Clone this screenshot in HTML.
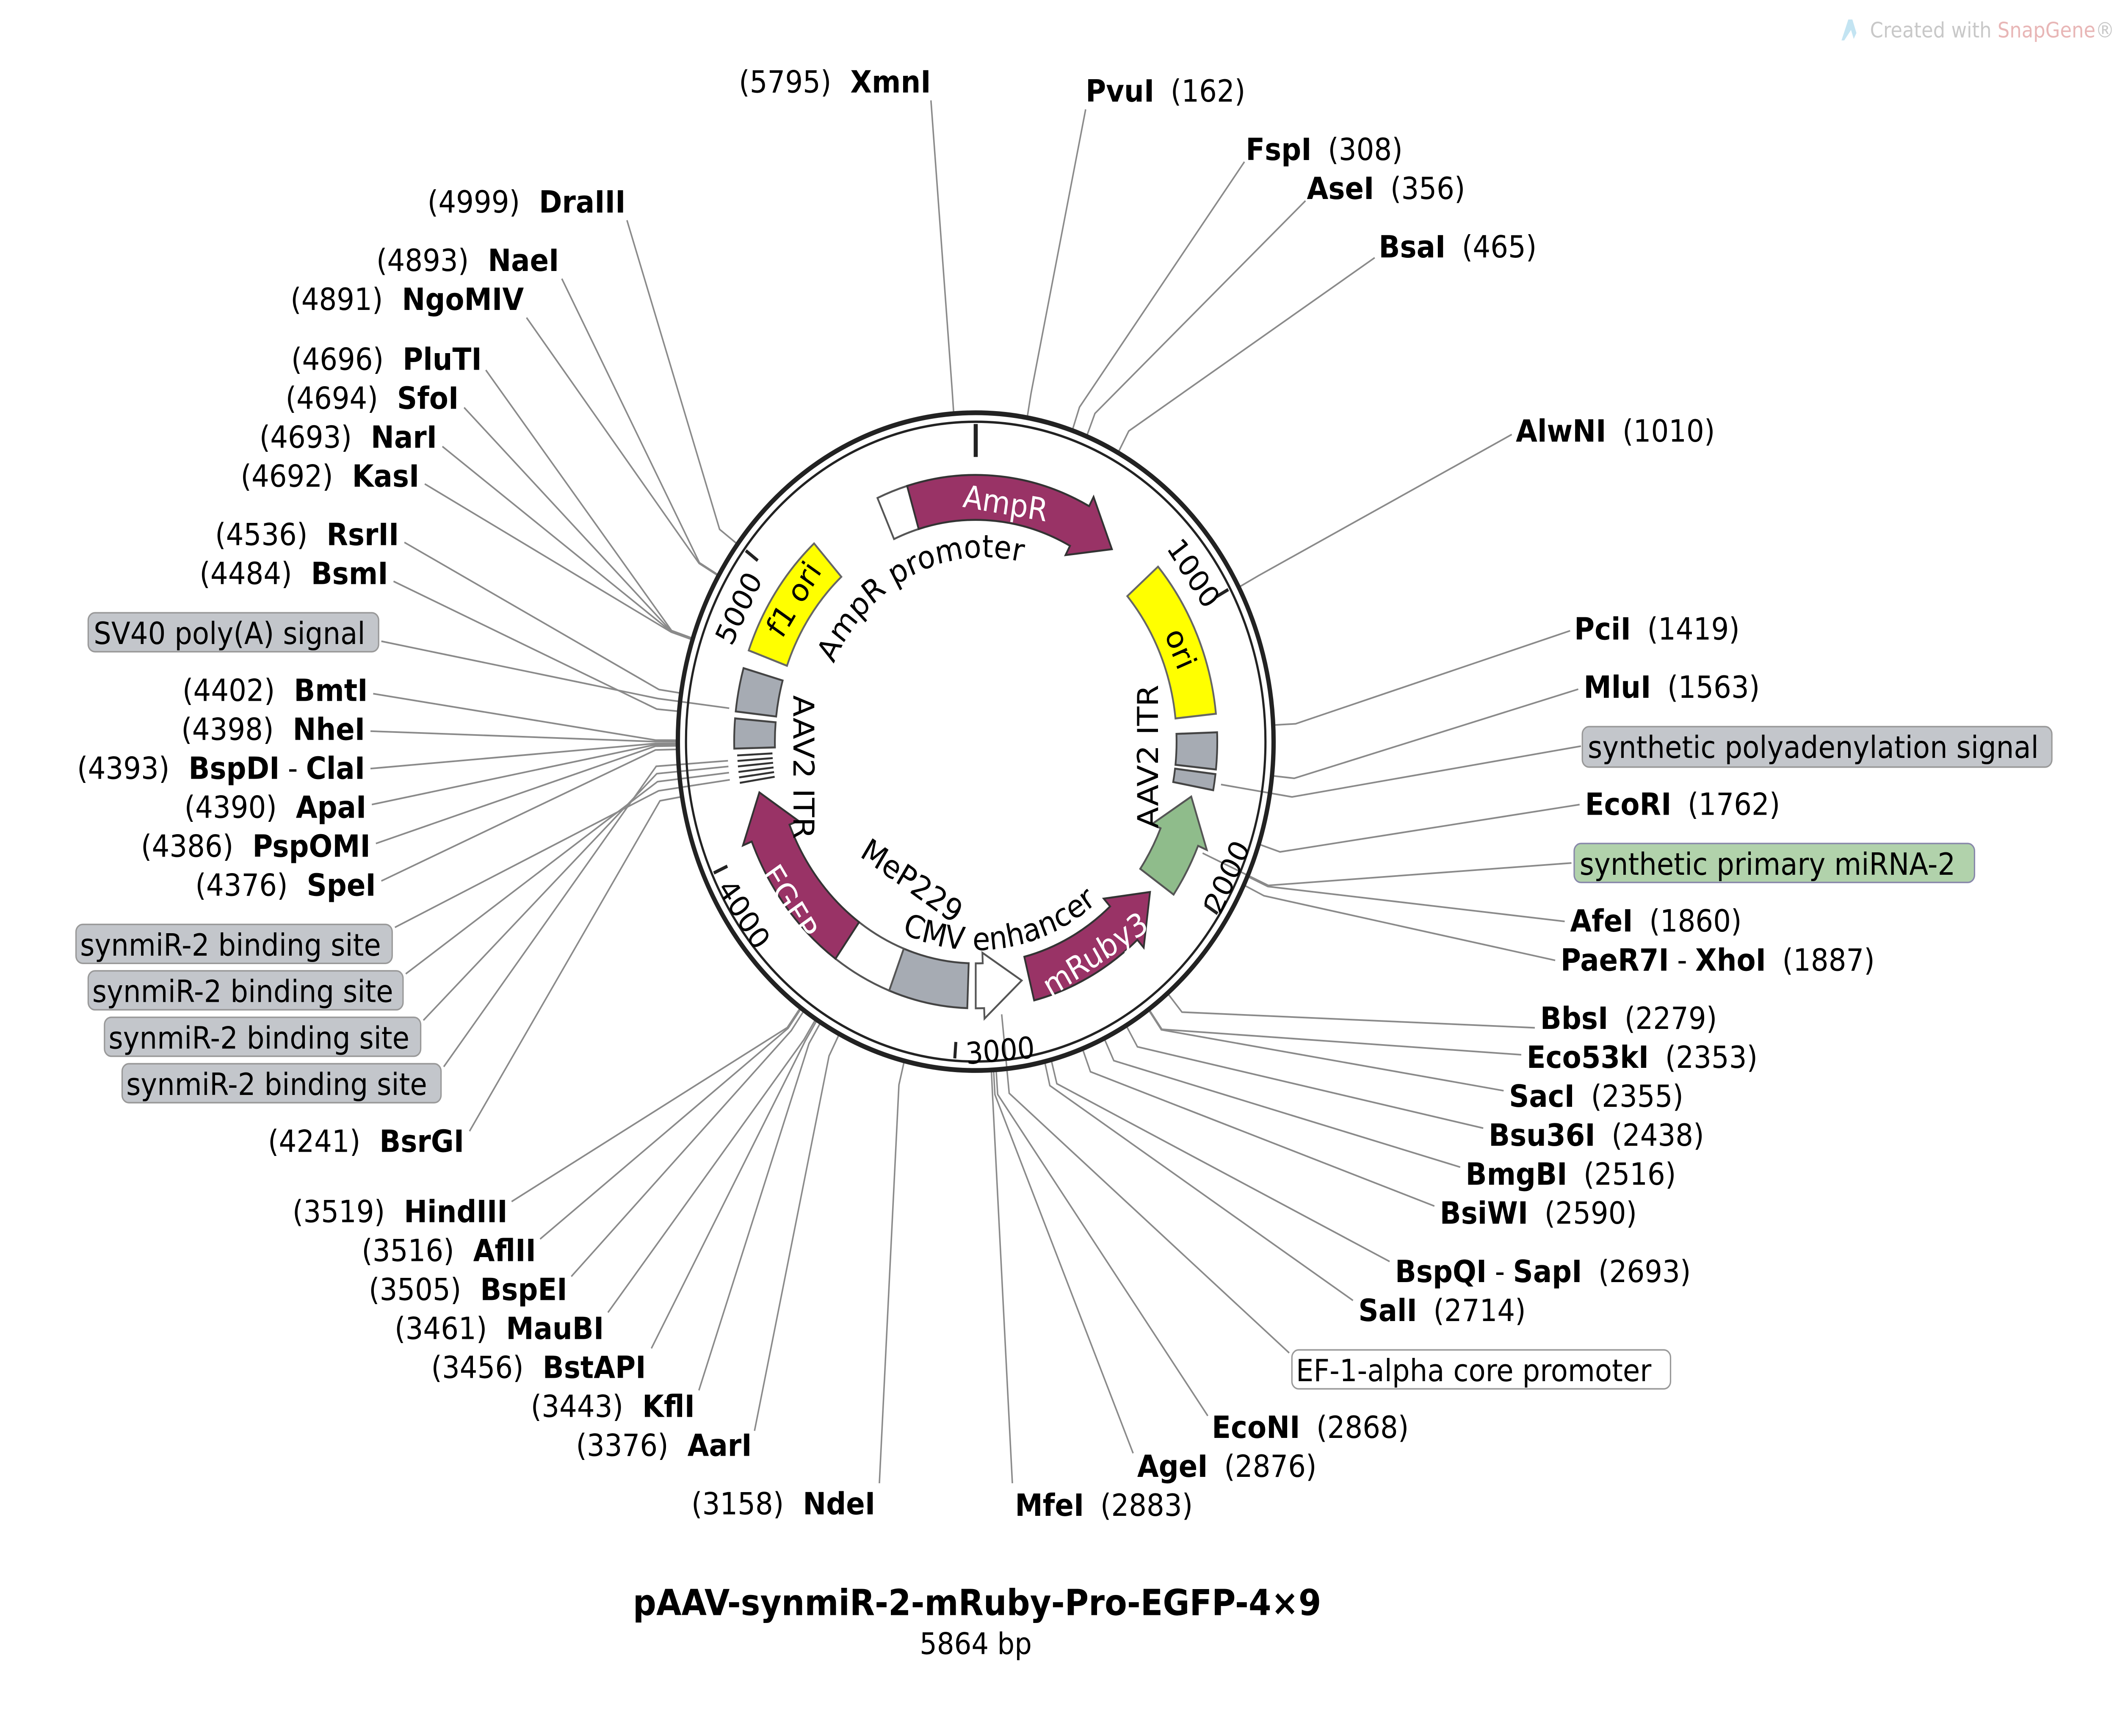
<!DOCTYPE html>
<html><head><meta charset="utf-8"><style>
html,body{margin:0;padding:0;background:#fff;overflow:hidden;width:100%;height:100%;}
svg{display:block;width:100vw;height:100vh;}
text{font-family:"DejaVu Sans","Liberation Sans",sans-serif;}
</style></head><body>
<svg id="s" xmlns="http://www.w3.org/2000/svg" viewBox="0 0 1560 1158.7" preserveAspectRatio="none">
<g id="lines" stroke="#8a8a8a" stroke-width="1.1" fill="none"></g>
<g id="feat"></g>
<circle cx="719" cy="495" r="219.5" fill="none" stroke="#222" stroke-width="3.2"/>
<circle cx="719" cy="495" r="213.5" fill="none" stroke="#222" stroke-width="1.6"/>
<g id="ticks" stroke="#222"></g>

<g>
<path d="M1357 27 L1362 13 L1365 13 L1368 22 L1366 26 L1364 20 L1359 27Z" fill="#c3e4f2"/>
<text x="1378" y="25" font-size="14" fill="#c8c8c8">Created with <tspan fill="#e8b6b6">SnapGene</tspan>®</text>
</g>

<defs>
<path id="arcP" d="M 614.5 443 A 122 122 0 0 1 760 377"/>
<path id="arcC" d="M 604 572 A 139 139 0 0 0 835 573"/>
</defs>
<text font-size="21" fill="#000"><textPath href="#arcP">AmpR promoter</textPath></text>
<text font-size="21" fill="#000"><textPath href="#arcC" startOffset="80">CMV enhancer</textPath></text>
<text font-size="21" transform="translate(672,588) rotate(33)" text-anchor="middle" dominant-baseline="central">MeP229</text>
<text font-size="21" transform="translate(592,512) rotate(90)" text-anchor="middle" dominant-baseline="central">AAV2 ITR</text>
<text font-size="21" transform="translate(846,505) rotate(-90)" text-anchor="middle" dominant-baseline="central">AAV2 ITR</text>
<text font-size="21" fill="#fff" transform="translate(741,336) rotate(9)" text-anchor="middle" dominant-baseline="central">AmpR</text>
<text font-size="21" fill="#000" transform="translate(870,433) rotate(68)" text-anchor="middle" dominant-baseline="central">ori</text>
<text font-size="21" fill="#000" transform="translate(585,400) rotate(-57)" text-anchor="middle" dominant-baseline="central">f1 ori</text>
<text font-size="21" fill="#fff" transform="translate(582,602) rotate(57)" text-anchor="middle" dominant-baseline="central">EGFP</text>
<text font-size="21" fill="#fff" transform="translate(807,637) rotate(-32)" text-anchor="middle" dominant-baseline="central">mRuby3</text>

<g font-size="20.5" dominant-baseline="central">
<text x="800" y="61"><tspan font-weight="bold">PvuI</tspan><tspan dx="12">(162)</tspan></text>
<text x="918" y="100"><tspan font-weight="bold">FspI</tspan><tspan dx="12">(308)</tspan></text>
<text x="963" y="126"><tspan font-weight="bold">AseI</tspan><tspan dx="12">(356)</tspan></text>
<text x="1016" y="165"><tspan font-weight="bold">BsaI</tspan><tspan dx="12">(465)</tspan></text>
<text x="1117" y="288"><tspan font-weight="bold">AlwNI</tspan><tspan dx="12">(1010)</tspan></text>
<text x="1160" y="420"><tspan font-weight="bold">PciI</tspan><tspan dx="12">(1419)</tspan></text>
<text x="1167" y="459"><tspan font-weight="bold">MluI</tspan><tspan dx="12">(1563)</tspan></text>
<text x="1168" y="537"><tspan font-weight="bold">EcoRI</tspan><tspan dx="12">(1762)</tspan></text>
<text x="1157" y="615"><tspan font-weight="bold">AfeI</tspan><tspan dx="12">(1860)</tspan></text>
<text x="1150" y="641"><tspan font-weight="bold">PaeR7I</tspan><tspan dx="6">-</tspan><tspan dx="6" font-weight="bold">XhoI</tspan><tspan dx="12">(1887)</tspan></text>
<text x="1135" y="680"><tspan font-weight="bold">BbsI</tspan><tspan dx="12">(2279)</tspan></text>
<text x="1125" y="706"><tspan font-weight="bold">Eco53kI</tspan><tspan dx="12">(2353)</tspan></text>
<text x="1112" y="732"><tspan font-weight="bold">SacI</tspan><tspan dx="12">(2355)</tspan></text>
<text x="1097" y="758"><tspan font-weight="bold">Bsu36I</tspan><tspan dx="12">(2438)</tspan></text>
<text x="1080" y="784"><tspan font-weight="bold">BmgBI</tspan><tspan dx="12">(2516)</tspan></text>
<text x="1061" y="810"><tspan font-weight="bold">BsiWI</tspan><tspan dx="12">(2590)</tspan></text>
<text x="1028" y="849"><tspan font-weight="bold">BspQI</tspan><tspan dx="6">-</tspan><tspan dx="6" font-weight="bold">SapI</tspan><tspan dx="12">(2693)</tspan></text>
<text x="1001" y="875"><tspan font-weight="bold">SalI</tspan><tspan dx="12">(2714)</tspan></text>
<text x="893" y="953"><tspan font-weight="bold">EcoNI</tspan><tspan dx="12">(2868)</tspan></text>
<text x="838" y="979"><tspan font-weight="bold">AgeI</tspan><tspan dx="12">(2876)</tspan></text>
<text x="748" y="1005"><tspan font-weight="bold">MfeI</tspan><tspan dx="12">(2883)</tspan></text>
</g>

<g font-size="20.5" dominant-baseline="central" text-anchor="end">
<text x="686" y="55">(5795)<tspan dx="14" font-weight="bold">XmnI</tspan></text>
<text x="645" y="1004">(3158)<tspan dx="14" font-weight="bold">NdeI</tspan></text>
<text x="554" y="965">(3376)<tspan dx="14" font-weight="bold">AarI</tspan></text>
<text x="512" y="939">(3443)<tspan dx="14" font-weight="bold">KflI</tspan></text>
<text x="476" y="913">(3456)<tspan dx="14" font-weight="bold">BstAPI</tspan></text>
<text x="445" y="887">(3461)<tspan dx="14" font-weight="bold">MauBI</tspan></text>
<text x="418" y="861">(3505)<tspan dx="14" font-weight="bold">BspEI</tspan></text>
<text x="395" y="835">(3516)<tspan dx="14" font-weight="bold">AflII</tspan></text>
<text x="374" y="809">(3519)<tspan dx="14" font-weight="bold">HindIII</tspan></text>
<text x="342" y="762">(4241)<tspan dx="14" font-weight="bold">BsrGI</tspan></text>
<text x="277" y="591">(4376)<tspan dx="14" font-weight="bold">SpeI</tspan></text>
<text x="273" y="565">(4386)<tspan dx="14" font-weight="bold">PspOMI</tspan></text>
<text x="270" y="539">(4390)<tspan dx="14" font-weight="bold">ApaI</tspan></text>
<text x="269" y="513">(4393)<tspan dx="14" font-weight="bold">BspDI</tspan><tspan dx="6">-</tspan><tspan dx="6" font-weight="bold">ClaI</tspan></text>
<text x="269" y="487">(4398)<tspan dx="14" font-weight="bold">NheI</tspan></text>
<text x="271" y="461">(4402)<tspan dx="14" font-weight="bold">BmtI</tspan></text>
<text x="286" y="383">(4484)<tspan dx="14" font-weight="bold">BsmI</tspan></text>
<text x="294" y="357">(4536)<tspan dx="14" font-weight="bold">RsrII</tspan></text>
<text x="309" y="318">(4692)<tspan dx="14" font-weight="bold">KasI</tspan></text>
<text x="322" y="292">(4693)<tspan dx="14" font-weight="bold">NarI</tspan></text>
<text x="338" y="266">(4694)<tspan dx="14" font-weight="bold">SfoI</tspan></text>
<text x="355" y="240">(4696)<tspan dx="14" font-weight="bold">PluTI</tspan></text>
<text x="386" y="200">(4891)<tspan dx="14" font-weight="bold">NgoMIV</tspan></text>
<text x="412" y="174">(4893)<tspan dx="14" font-weight="bold">NaeI</tspan></text>
<text x="461" y="135">(4999)<tspan dx="14" font-weight="bold">DraIII</tspan></text>
</g>

<g font-size="20.5" dominant-baseline="central">
<rect x="1166" y="485" width="346" height="27" rx="5" fill="#c3c6cb" stroke="#999"/>
<text x="1170" y="499">synthetic polyadenylation signal</text>
<rect x="1160" y="563" width="295" height="26" rx="5" fill="#b1d2ab" stroke="#88a"/>
<text x="1164" y="577">synthetic primary miRNA-2</text>
<rect x="952" y="901" width="279" height="26" rx="5" fill="#fff" stroke="#999"/>
<text x="955" y="915">EF-1-alpha core promoter</text>
<rect x="65" y="409" width="214" height="26" rx="5" fill="#c3c6cb" stroke="#999"/>
<text x="69" y="423">SV40 poly(A) signal</text>
<rect x="56" y="617" width="233" height="26" rx="5" fill="#c3c6cb" stroke="#999"/>
<text x="59" y="631">synmiR-2 binding site</text>
<rect x="65" y="648" width="232" height="26" rx="5" fill="#c3c6cb" stroke="#999"/>
<text x="68" y="662">synmiR-2 binding site</text>
<rect x="77" y="679" width="233" height="26" rx="5" fill="#c3c6cb" stroke="#999"/>
<text x="80" y="693">synmiR-2 binding site</text>
<rect x="90" y="710" width="235" height="26" rx="5" fill="#c3c6cb" stroke="#999"/>
<text x="93" y="724">synmiR-2 binding site</text>
</g>

<text x="720" y="1078" font-size="24" font-weight="bold" text-anchor="middle">pAAV-synmiR-2-mRuby-Pro-EGFP-4×9</text>
<text x="719" y="1104" font-size="20" text-anchor="middle">5864 bp</text>

<script>
(function(){
var NS="http://www.w3.org/2000/svg",cx=719,cy=495;
function P(r,a){var t=a*Math.PI/180;return [cx+r*Math.sin(t),cy-r*Math.cos(t)];}
function f(p){return p[0].toFixed(2)+" "+p[1].toFixed(2);}
function el(tag,attrs,parent){var e=document.createElementNS(NS,tag);for(var k in attrs)e.setAttribute(k,attrs[k]);document.getElementById(parent).appendChild(e);return e;}
var bpd=360/5864;
var L=[[162,800,73],[308,917,108],[356,962,134],[465,1013,172],[1010,1114,290],[1419,1157,421],[1563,1163,460],[1762,1164,537],[1860,1153,615],[1887,1146,641],[2279,1131,686],[2353,1121,704],[2355,1108,728],[2438,1093,753],[2516,1076,779],[2590,1057,805],[2693,1024,842],[2714,997,868],[2868,890,945],[2876,835,970],[2883,746,990],
[5795,686,67],[3158,648,990],[3376,556,955],[3443,515,928],[3456,480,900],[3461,448,876],[3505,421,852],[3516,398,827],[3519,377,802],[4241,346,755],[4376,281,588],[4386,277,563],[4390,274,537],[4393,273,513],[4398,273,488],[4402,275,463],[4484,290,388],[4536,298,362],[4692,313,323],[4693,326,298],[4694,342,272],[4696,358,247],[4891,388,212],[4893,414,186],[4999,462,147]];
L.forEach(function(d){var a=d[0]*bpd;var p1=P(221,a),p2=P(236,a);el("polyline",{points:f(p1)+" "+f(p2)+" "+d[1]+" "+d[2]},"lines");});
var FL=[[99,1165,498],[114,1158,576],[174,950,903],[277,281,428],[262,291,619],[263.5,299,650],[264.8,312,681],[266,327,712]];
FL.forEach(function(d){var p1=P(183,d[0]),p2=P(236,d[0]);el("polyline",{points:f(p1)+" "+f(p2)+" "+d[1]+" "+d[2]},"lines");});
var r1=148,r2=178,rm=163,h=10,w=7;
function band(a,b){var lg=(b-a)>180?1:0;
 return "M"+f(P(r2,a))+" A"+r2+" "+r2+" 0 "+lg+" 1 "+f(P(r2,b))+" L"+f(P(r1,b))+" A"+r1+" "+r1+" 0 "+lg+" 0 "+f(P(r1,a))+"Z";}
function arrowCW(a,b){var c=b-h;return "M"+f(P(r2,a))+" A"+r2+" "+r2+" 0 0 1 "+f(P(r2,c))+" L"+f(P(r2+w,c))+" L"+f(P(rm,b))+" L"+f(P(r1-w,c))+" L"+f(P(r1,c))+" A"+r1+" "+r1+" 0 0 0 "+f(P(r1,a))+"Z";}
function arrowCCW(a,b){var c=a+h;return "M"+f(P(rm,a))+" L"+f(P(r2+w,c))+" L"+f(P(r2,c))+" A"+r2+" "+r2+" 0 0 1 "+f(P(r2,b))+" L"+f(P(r1,b))+" A"+r1+" "+r1+" 0 0 0 "+f(P(r1,c))+" L"+f(P(r1-w,c))+"Z";}
var FS=[[band(-24,-16.5),"#fff","#555"],[arrowCW(-16.5,38),"#993366","#333"],[band(49,84),"#ffff00","#666"],[band(88,96),"#a6abb3","#444"],[band(97,100.5),"#a6abb3","#444"],[arrowCCW(103,125),"#8fbc8b","#555"],[arrowCCW(128,166),"#993366","#333"],[arrowCCW(168,180),"#fff","#555"],[band(182,201),"#a6abb3","#444"],[band(201,215.5),"#fff","#555"],[arrowCW(215.5,258),"#993366","#333"],[band(268.5,275),"#a6abb3","#444"],[band(276.5,286),"#a6abb3","#444"],[band(290,318),"#ffff00","#666"]];
FS.forEach(function(d){el("path",{d:d[0],fill:d[1],stroke:d[2],"stroke-width":1.3},"feat");});
[261,262.2,263.4,264.6,265.8,267].forEach(function(a){el("line",{x1:P(r1+2,a)[0],y1:P(r1+2,a)[1],x2:P(r2-2,a)[0],y2:P(r2-2,a)[1],stroke:"#333","stroke-width":1.3},"feat");});
var t0=P(212,0),t1=P(190,0);el("line",{x1:t0[0],y1:t0[1],x2:t1[0],y2:t1[1],"stroke-width":3},"ticks");
[1000,2000,3000,4000,5000].forEach(function(b){var a=b*bpd,p=P(212,a),q=P(201,a);el("line",{x1:p[0],y1:p[1],x2:q[0],y2:q[1],"stroke-width":2.2},"ticks");});
})();
</script>
<g font-size="20" text-anchor="middle" dominant-baseline="central">
<text transform="translate(879.5,382.6) rotate(55)">1000</text>
<text transform="translate(904.2,585.3) rotate(-64)">2000</text>
<text transform="translate(737,701.2) rotate(-5)">3000</text>
<text transform="translate(548.2,610.2) rotate(56)">4000</text>
<text transform="translate(544.4,406) rotate(-63)">5000</text>
</g>
</svg>
</body></html>
